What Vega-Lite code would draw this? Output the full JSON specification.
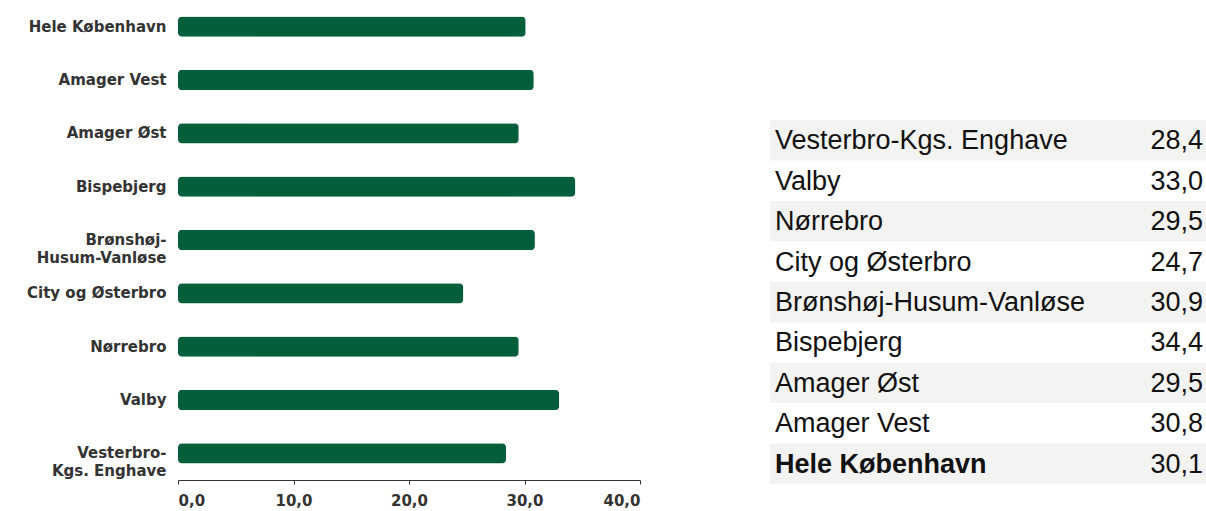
{
  "$schema": "https://vega.github.io/schema/vega-lite/v6.json",
  "padding": {"left": 5, "top": 0, "right": 0, "bottom": 0},
  "background": "white",
  "config": {
    "view": {"stroke": null},
    "locale": {"number": {"decimal": ",", "thousands": ".", "grouping": [3], "currency": ["", " kr."]}}
  },
  "data": {"values": [
    {"name": "Hele København", "value": 30.1},
    {"name": "Amager Vest", "value": 30.8},
    {"name": "Amager Øst", "value": 29.5},
    {"name": "Bispebjerg", "value": 34.4},
    {"name": "Brønshøj-Husum-Vanløse", "value": 30.9},
    {"name": "City og Østerbro", "value": 24.7},
    {"name": "Nørrebro", "value": 29.5},
    {"name": "Valby", "value": 33.0},
    {"name": "Vesterbro-Kgs. Enghave", "value": 28.4}
  ]},
  "spacing": 130,
  "bounds": "flush",
  "hconcat": [
    {
      "width": 462,
      "height": 480,
      "mark": {"type": "bar", "color": "#035f3b", "cornerRadius": 4},
      "encoding": {
        "y": {
          "field": "name", "type": "nominal", "title": null,
          "sort": ["Hele København", "Amager Vest", "Amager Øst", "Bispebjerg", "Brønshøj-Husum-Vanløse", "City og Østerbro", "Nørrebro", "Valby", "Vesterbro-Kgs. Enghave"],
          "scale": {"paddingInner": 0.62, "paddingOuter": 0.31},
          "axis": {
            "domain": false, "ticks": false, "labelPadding": 12,
            "minExtent": 173, "maxExtent": 173,
            "labelFont": "DejaVu Sans", "labelFontWeight": "bold", "labelFontSize": 15,
            "labelColor": "#333333", "labelLineHeight": 18, "labelLimit": 200,
            "labelExpr": "indexof(datum.value, '-') > 0 ? [slice(datum.value, 0, indexof(datum.value, '-') + 1), slice(datum.value, indexof(datum.value, '-') + 1)] : datum.value"
          }
        },
        "x": {
          "field": "value", "type": "quantitative", "title": null,
          "scale": {"domain": [0, 40], "nice": false},
          "axis": {
            "values": [0, 10, 20, 30, 40], "format": ".1f", "grid": false,
            "domainColor": "#333333", "tickColor": "#333333", "tickSize": 4,
            "labelFont": "DejaVu Sans", "labelFontWeight": "bold", "labelFontSize": 15,
            "labelColor": "#333333", "labelPadding": 9
          }
        }
      }
    },
    {
      "width": 436,
      "height": 484,
      "encoding": {
        "y": {
          "field": "name", "type": "nominal", "title": null, "axis": null,
          "sort": ["Vesterbro-Kgs. Enghave", "Valby", "Nørrebro", "City og Østerbro", "Brønshøj-Husum-Vanløse", "Bispebjerg", "Amager Øst", "Amager Vest", "Hele København"],
          "scale": {"range": [120, 484], "paddingInner": 0, "paddingOuter": 0}
        }
      },
      "layer": [
        {
          "transform": [{"filter": {"field": "name", "oneOf": ["Vesterbro-Kgs. Enghave", "Nørrebro", "Brønshøj-Husum-Vanløse", "Amager Øst", "Hele København"]}}],
          "mark": {"type": "rect", "color": "#f3f3f1"},
          "encoding": {
            "x": {"datum": 0, "type": "quantitative", "scale": {"domain": [0, 1]}, "axis": null},
            "x2": {"datum": 1}
          }
        },
        {
          "transform": [{"filter": "datum.name != 'Hele København'"}],
          "mark": {"type": "text", "align": "left", "baseline": "middle", "dx": 5, "dy": 1, "font": "Liberation Sans", "fontSize": 27, "color": "#111111"},
          "encoding": {
            "x": {"datum": 0, "type": "quantitative"},
            "text": {"field": "name"}
          }
        },
        {
          "transform": [{"filter": "datum.name == 'Hele København'"}],
          "mark": {"type": "text", "align": "left", "baseline": "middle", "dx": 5, "dy": 1, "font": "Liberation Sans", "fontSize": 27, "fontWeight": "bold", "color": "#111111"},
          "encoding": {
            "x": {"datum": 0, "type": "quantitative"},
            "text": {"field": "name"}
          }
        },
        {
          "mark": {"type": "text", "align": "right", "baseline": "middle", "dx": -3, "dy": 1, "font": "Liberation Sans", "fontSize": 27, "color": "#111111"},
          "encoding": {
            "x": {"datum": 1, "type": "quantitative"},
            "text": {"field": "value", "type": "quantitative", "format": ".1f"}
          }
        }
      ]
    }
  ]
}
